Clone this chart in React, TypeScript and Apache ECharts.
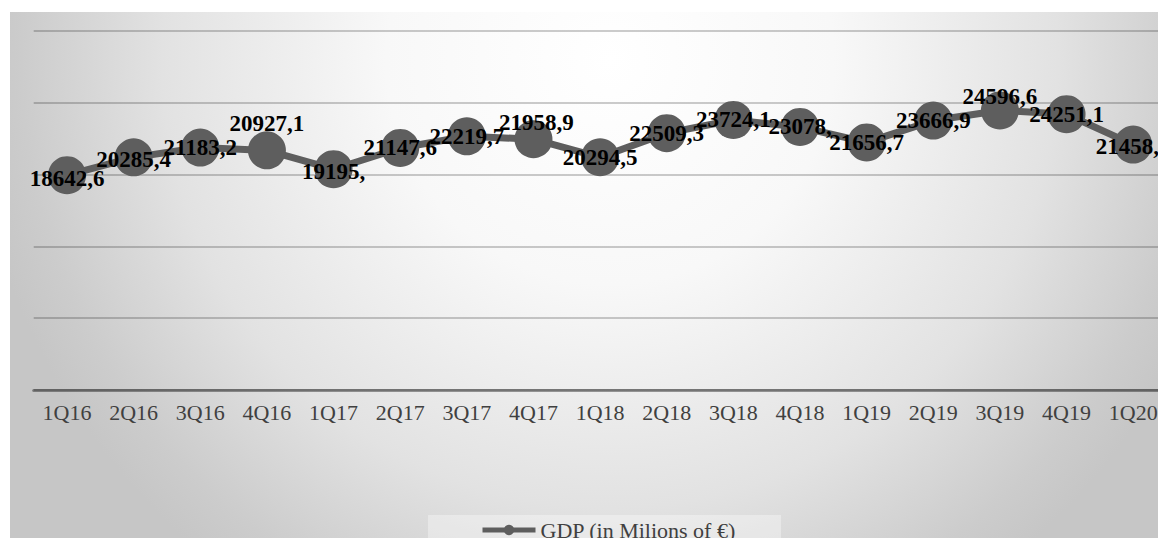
import React, { useEffect, useRef } from "react";
import * as echarts from "echarts";

const categories = ["1Q16", "2Q16", "3Q16", "4Q16", "1Q17", "2Q17", "3Q17", "4Q17", "1Q18", "2Q18", "3Q18", "4Q18", "1Q19", "2Q19", "3Q19", "4Q19", "1Q20"];
const gdpValues = [18642.6, 20285.4, 21183.2, 20927.1, 19195.0, 21147.6, 22219.7, 21958.9, 20294.5, 22509.3, 23724.1, 23078.0, 21656.7, 23666.9, 24596.6, 24251.1, 21458.3];
const labelTexts = ["18642,6", "20285,4", "21183,2", "20927,1", "19195,", "21147,6", "22219,7", "21958,9", "20294,5", "22509,3", "23724,1", "23078,", "21656,7", "23666,9", "24596,6", "24251,1", "21458,3"];
const labelOffsets: number[][] = [[0, 3], [0, 2], [0, 0], [0, -27], [0, 2], [0, 0], [0, 0], [3, -17], [0, 0], [0, 0], [0, 0], [0, 0], [0, 0], [0, 0], [0, -14], [0, 0], [0, 2]];
const seriesName = "GDP (in Milions of €)";

const SERIF = "'Liberation Serif', 'Times New Roman', serif";

export default function App() {
  const ref = useRef<HTMLDivElement>(null);
  useEffect(() => {
    if (!ref.current) return;
    const chart = echarts.init(ref.current, null, { renderer: "svg" });
    const data = gdpValues.map((v, i) => ({
      value: v,
      label: { offset: labelOffsets[i] },
    }));
    chart.setOption({
      animation: false,
      graphic: [
        {
          type: "rect",
          z: -10,
          silent: true,
          shape: { x: 10, y: 12, width: 1148, height: 526 },
          style: {
            fill: new echarts.graphic.RadialGradient(610, 60, 640, [
              { offset: 0, color: "#ffffff" },
              { offset: 0.35, color: "#f8f8f8" },
              { offset: 0.7, color: "#e2e2e2" },
              { offset: 0.92, color: "#cccccc" },
              { offset: 1, color: "#c6c6c6" },
            ], true),
          },
        },
      ],
      grid: {
        left: 33.7,
        right: -8.5,
        top: 31,
        bottom: 148,
        outerBoundsMode: "none",
      },
      legend: {
        left: 428,
        top: 515,
        padding: [4, 45, 4, 52],
        backgroundColor: "rgba(255,255,255,0.35)",
        itemWidth: 53,
        itemHeight: 13,
        itemGap: 10,
        lineStyle: { width: 5 },
        textStyle: { fontFamily: SERIF, fontSize: 22, color: "#404040" },
        data: [seriesName],
      },
      xAxis: {
        type: "category",
        data: categories,
        boundaryGap: true,
        axisTick: { show: false },
        axisLine: { onZero: false, lineStyle: { color: "rgba(0,0,0,0.38)", width: 3 } },
        axisLabel: { fontFamily: SERIF, fontSize: 22, color: "#404040", margin: 11 },
      },
      yAxis: {
        type: "value",
        min: -1100,
        max: 31900,
        interval: 6600,
        axisLabel: { show: false },
        axisLine: { show: false },
        axisTick: { show: false },
        splitLine: { lineStyle: { color: "rgba(0,0,0,0.2)", width: 2 } },
      },
      series: [
        {
          name: seriesName,
          type: "line",
          data,
          symbol: "circle",
          symbolSize: 38,
          itemStyle: { color: "#5e5e5e" },
          lineStyle: { color: "#5e5e5e", width: 7 },
          label: {
            show: true,
            position: "inside",
            formatter: (p: any) => labelTexts[p.dataIndex],
            fontFamily: SERIF,
            fontSize: 23,
            fontWeight: "bold",
            color: "#000000",
          },
        },
      ],
    });
    return () => chart.dispose();
  }, []);
  return (
    <div
      ref={ref}
      style={{ position: "absolute", left: 0, top: 0, width: 1158, height: 538 }}
    />
  );
}
